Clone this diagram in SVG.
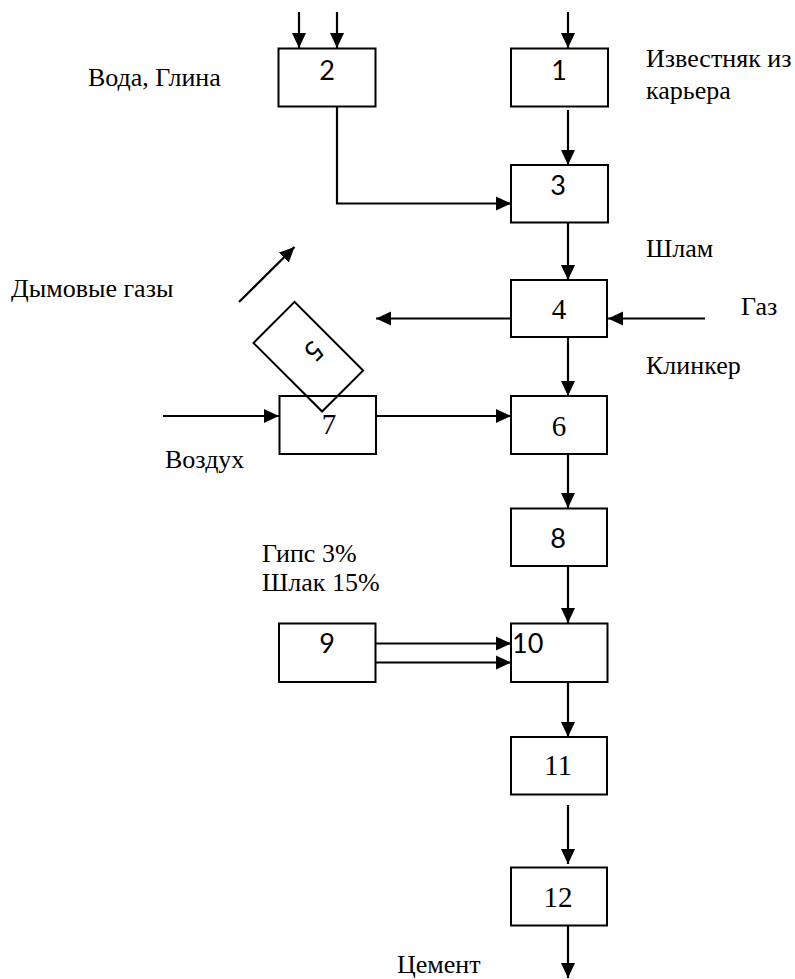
<svg xmlns="http://www.w3.org/2000/svg" width="795" height="979" viewBox="0 0 795 979">
<style>
.box{fill:#fff;stroke:#000;stroke-width:2}
.box5{fill:none;stroke:#000;stroke-width:2}
.ln{fill:none;stroke:#000;stroke-width:2.2}
.arr{marker-end:url(#ah)}
.lbl{font-family:"Liberation Serif","Times New Roman",serif;font-size:26px;fill:#000}
.ns{font-family:Lato,"Liberation Sans",sans-serif;font-size:27px;fill:#000;text-anchor:middle}
.nr{font-family:"Liberation Serif","Times New Roman",serif;font-size:29px;fill:#000;text-anchor:middle}
</style>
<defs>
<marker id="ah" markerUnits="userSpaceOnUse" markerWidth="16" markerHeight="16" refX="15" refY="7" orient="auto" viewBox="0 0 16 14">
<path d="M0,0 L15,7 L0,14 z" fill="#000"/>
</marker>
</defs>
<rect width="795" height="979" fill="#fff"/>
<g id="connectors">
<line class="ln arr" x1="299" y1="12" x2="299" y2="48"/>
<line class="ln arr" x1="337" y1="12" x2="337" y2="48"/>
<line class="ln arr" x1="568" y1="12" x2="568" y2="48"/>
<line class="ln arr" x1="568" y1="110" x2="568" y2="165"/>
<polyline class="ln arr" points="337,107 337,203.5 511,203.5"/>
<line class="ln arr" x1="568" y1="222" x2="568" y2="280"/>
<line class="ln arr" x1="511" y1="318.5" x2="376" y2="318.5"/>
<line class="ln arr" x1="705" y1="318.5" x2="608" y2="318.5"/>
<line class="ln arr" x1="239" y1="302" x2="294.5" y2="247"/>
<line class="ln arr" x1="568" y1="337" x2="568" y2="396"/>
<line class="ln arr" x1="163" y1="416" x2="279" y2="416"/>
<line class="ln arr" x1="376" y1="416" x2="511" y2="416"/>
<line class="ln arr" x1="568" y1="454" x2="568" y2="508"/>
<line class="ln arr" x1="568" y1="566" x2="568" y2="623"/>
<line class="ln arr" x1="376" y1="643.5" x2="511" y2="643.5"/>
<line class="ln arr" x1="376" y1="662.5" x2="511" y2="662.5"/>
<line class="ln arr" x1="568" y1="682" x2="568" y2="737"/>
<line class="ln arr" x1="568" y1="805" x2="568" y2="864"/>
<line class="ln arr" x1="568" y1="921" x2="568" y2="978"/>
</g>
<g id="n2"><rect class="box" x="278.5" y="48.5" width="97" height="58"/><text class="ns" x="327" y="80">2</text></g>
<g id="n1"><rect class="box" x="511" y="48.5" width="97" height="58"/><text class="ns" x="559" y="80">1</text></g>
<g id="n3"><rect class="box" x="511" y="165" width="97" height="57.5"/><text class="ns" x="558" y="195">3</text></g>
<g id="n4"><rect class="box" x="511" y="280" width="96" height="57"/><text class="nr" x="559" y="319">4</text></g>
<g id="n7"><rect class="box" x="279.5" y="396" width="96.5" height="58"/><text class="nr" x="329" y="434">7</text></g>
<g id="n5"><rect class="box5" x="-48.5" y="-29" width="97" height="58" transform="translate(308.3,356.7) rotate(45)"/><text class="ns" x="0" y="9.5" transform="translate(314,351) rotate(135)">5</text></g>
<g id="n6"><rect class="box" x="511" y="396" width="96" height="58"/><text class="nr" x="559" y="436">6</text></g>
<g id="n8"><rect class="box" x="511" y="508.5" width="96" height="57.5"/><text class="ns" x="558" y="548">8</text></g>
<g id="n9"><rect class="box" x="279" y="623.5" width="96.5" height="58.5"/><text class="ns" x="327" y="653">9</text></g>
<g id="n10"><rect class="box" x="511" y="623.5" width="96.5" height="58.5"/><text class="ns" x="512" y="653" style="text-anchor:start">10</text></g>
<g id="n11"><rect class="box" x="511" y="737" width="96" height="57.5"/><text class="nr" x="558" y="775">11</text></g>
<g id="n12"><rect class="box" x="511" y="867.5" width="96" height="58"/><text class="nr" x="558" y="907">12</text></g>
<g id="labels">
<text class="lbl" x="88" y="86">Вода, Глина</text>
<text class="lbl" x="646" y="67">Известняк из</text>
<text class="lbl" x="646" y="99">карьера</text>
<text class="lbl" x="11" y="297">Дымовые газы</text>
<text class="lbl" x="646" y="257">Шлам</text>
<text class="lbl" x="741" y="315">Газ</text>
<text class="lbl" x="646" y="374">Клинкер</text>
<text class="lbl" x="165" y="468">Воздух</text>
<text class="lbl" x="262" y="562">Гипс 3%</text>
<text class="lbl" x="262" y="591">Шлак 15%</text>
<text class="lbl" x="397" y="973">Цемент</text>
</g>
</svg>
